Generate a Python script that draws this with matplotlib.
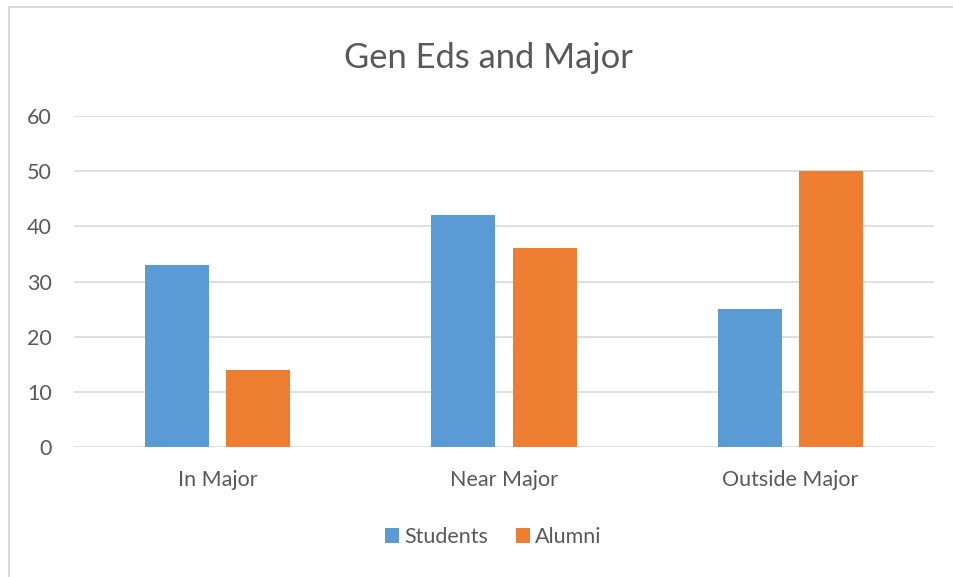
import matplotlib.pyplot as plt
import numpy as np
from matplotlib.lines import Line2D

categories = ["In Major", "Near Major", "Outside Major"]
students = [33, 42, 25]
alumni = [14, 36, 50]
yticks = [0, 10, 20, 30, 40, 50, 60]

plt.rcParams['font.family'] = ['Lato', 'DejaVu Sans']
grey = '#595959'

fig = plt.figure(figsize=(9.54, 5.77), dpi=100)
ax = fig.add_axes([74 / 954, 1 - 447 / 577, 860 / 954, 331 / 577])

x = np.arange(len(categories))
w = 0.223
gap = 0.06
ax.bar(x - (w + gap) / 2, students, w, color='#5B9BD5', label='Students', zorder=3)
ax.bar(x + (w + gap) / 2, alumni, w, color='#ED7D31', label='Alumni', zorder=3)

ax.set_xlim(-0.5, 2.5)
ax.set_ylim(0, 60)
ax.set_yticks(yticks)
ax.set_xticks(x)
ax.set_xticklabels(categories)
ax.tick_params(length=0, labelsize=15.5, colors=grey)
ax.tick_params(axis='y', pad=16)
ax.tick_params(axis='x', pad=16.5)
ax.grid(axis='y', color='#D9D9D9', linewidth=1.2, zorder=0)
for s in ax.spines.values():
    s.set_visible(False)

fig.text(0.512, 1 - 58 / 577, "Gen Eds and Major", ha='center', va='center',
         fontsize=24.8, color=grey)

fig.legend(loc='center', bbox_to_anchor=(0.517, 1 - 537 / 577), ncol=2,
           frameon=False, fontsize=15.5, labelcolor=grey, handlelength=0.65,
           handleheight=0.65, handletextpad=0.25, columnspacing=1.3)

# chart border (left and top edges visible)
fig.add_artist(Line2D([9 / 954, 9 / 954], [0, 1 - 6.5 / 577], transform=fig.transFigure,
                      color='#D9D9D9', linewidth=1.5))
fig.add_artist(Line2D([9 / 954, 1], [1 - 6.5 / 577, 1 - 6.5 / 577], transform=fig.transFigure,
                      color='#D9D9D9', linewidth=1.5))

fig.savefig('out.png', dpi=100)
